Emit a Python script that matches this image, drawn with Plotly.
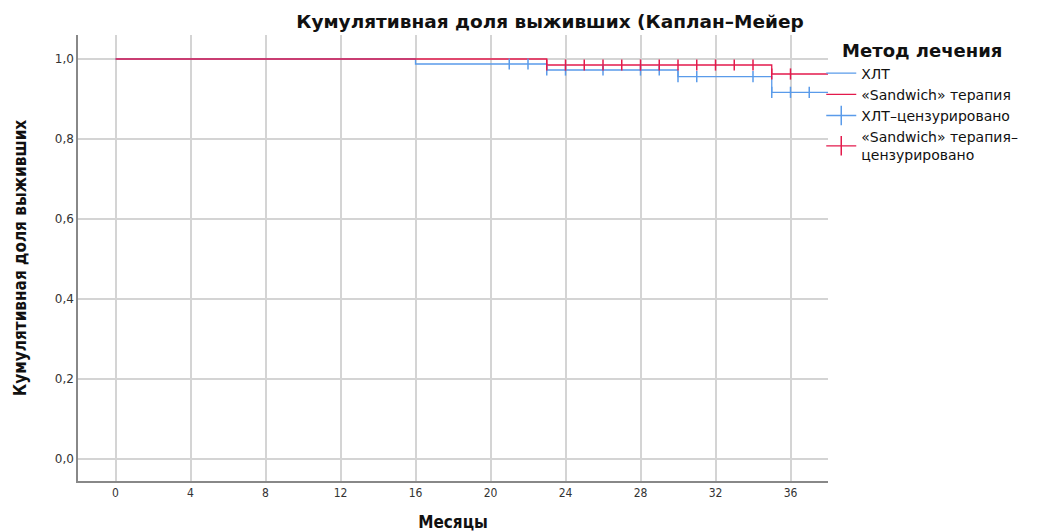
import plotly.graph_objects as go

# Kaplan-Meier step data (months, survival)
xlt_time = [0, 16, 16, 23, 23, 30, 30, 35, 35, 38]
xlt_surv = [1.0, 1.0, 0.9875, 0.9875, 0.9725, 0.9725, 0.9558, 0.9558, 0.9167, 0.9167]
sand_time = [0, 23, 23, 35, 35, 38]
sand_surv = [1.0, 1.0, 0.985, 0.985, 0.9625, 0.9625]

# Censored observations
xlt_cens_t = [21, 22, 23, 24, 26, 28, 29, 30, 31, 34, 35, 36, 37]
xlt_cens_s = [0.9875, 0.9875, 0.9725, 0.9725, 0.9725, 0.9725, 0.9725, 0.9558, 0.9558, 0.9558, 0.9167, 0.9167, 0.9167]
sand_cens_t = [23, 24, 25, 26, 27, 28, 29, 30, 31, 32, 33, 34, 35, 36]
sand_cens_s = [0.985] * 12 + [0.9625, 0.9625]

x_ticks = [0, 4, 8, 12, 16, 20, 24, 28, 32, 36]
y_ticks = [0.0, 0.2, 0.4, 0.6, 0.8, 1.0]

BLUE = "#5a9bea"
RED = "#e31a4c"

W, H = 1038, 524

fig = go.Figure()
fig.add_trace(go.Scatter(x=xlt_time, y=xlt_surv, mode="lines", name="ХЛТ",
                         line=dict(color=BLUE, width=1.3)))
fig.add_trace(go.Scatter(x=sand_time, y=sand_surv, mode="lines", name="«Sandwich» терапия",
                         line=dict(color=RED, width=1.3)))
# censored marks on the plot
fig.add_trace(go.Scatter(x=xlt_cens_t, y=xlt_cens_s, mode="markers", showlegend=False,
                         marker=dict(symbol="line-ns", size=8, line=dict(color=BLUE, width=1.5))))
fig.add_trace(go.Scatter(x=sand_cens_t, y=sand_cens_s, mode="markers", showlegend=False,
                         marker=dict(symbol="line-ns", size=8, line=dict(color=RED, width=1.5))))
# legend entries for censored marks (cross-like symbol)
fig.add_trace(go.Scatter(x=[None], y=[None], mode="lines+markers", name="ХЛТ–цензурировано",
                         line=dict(color=BLUE, width=1.3),
                         marker=dict(symbol="line-ns", size=14, line=dict(color=BLUE, width=1.5))))
fig.add_trace(go.Scatter(x=[None], y=[None], mode="lines+markers",
                         name="«Sandwich» терапия–<br>цензурировано",
                         line=dict(color=RED, width=1.3),
                         marker=dict(symbol="line-ns", size=14, line=dict(color=RED, width=1.5))))

fig.update_layout(
    template="none",
    width=W, height=H,
    separators=",.",
    paper_bgcolor="white", plot_bgcolor="white",
    margin=dict(l=70, r=218, t=27, b=51),
    font=dict(family="DejaVu Sans", size=12, color="#222"),
    title=dict(text="<b>Кумулятивная доля выживших (Каплан–Мейер</b>",
               x=542 / W, xanchor="center", xref="container",
               y=1 - 14 / H, yanchor="middle",
               font=dict(family="DejaVu Sans", size=18.5, color="#111")),
    xaxis=dict(range=[-2, 38], tickvals=x_ticks, ticktext=[str(v) for v in x_ticks],
               showgrid=True, gridcolor="#d4d4d4", gridwidth=1.5, zeroline=False,
               showline=True, linecolor="#888", linewidth=1.5, ticks="",
               tickfont=dict(family="DejaVu Sans Condensed", size=12, color="#333"),
               title=dict(text="<b>Месяцы</b>", standoff=17,
                          font=dict(family="DejaVu Sans Condensed", size=17, color="#111")),
               automargin=False),
    yaxis=dict(range=[-0.055, 1.06], tickvals=y_ticks, tickformat=".1f",
               showgrid=True, gridcolor="#d4d4d4", gridwidth=1.5, zeroline=False,
               showline=True, linecolor="#888", linewidth=1.5, ticks="",
               tickfont=dict(family="DejaVu Sans", size=12, color="#333"),
               title=dict(text="<b>Кумулятивная доля выживших</b>", standoff=24,
                          font=dict(family="DejaVu Sans Condensed", size=17, color="#111")),
               automargin=False),
    legend=dict(x=0.991, xanchor="left", y=1.002, yanchor="top",
                title=dict(text="<b>Метод лечения</b>", side="top center",
                           font=dict(family="DejaVu Sans", size=18, color="#111")),
                font=dict(family="DejaVu Sans", size=14, color="#111"),
                tracegroupgap=0, itemwidth=30, bgcolor="rgba(0,0,0,0)"),
)

fig.write_html("out.html")
